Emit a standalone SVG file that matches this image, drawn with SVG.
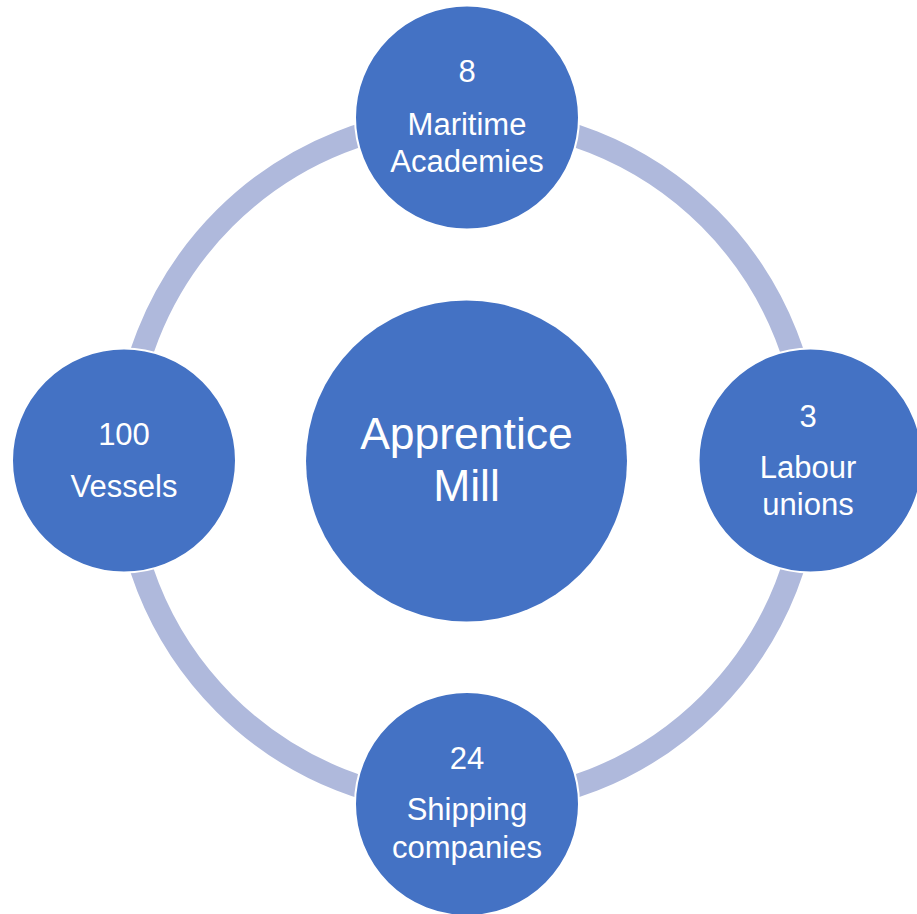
<svg xmlns="http://www.w3.org/2000/svg" width="917" height="914" viewBox="0 0 917 914">
<style>
.node{fill:#4472C4;}
.outer{stroke:#FFFFFF;stroke-width:2;}
.ring{fill:none;stroke:#AFB9DC;stroke-width:23;}
text{font-family:"Liberation Sans",Arial,sans-serif;fill:#FFFFFF;text-anchor:middle;}
.s{font-size:31px;}
.c{font-size:44.5px;}
</style>
<rect width="917" height="914" fill="#FFFFFF"/>
<g id="connectors">
<circle class="ring" cx="467" cy="461" r="343"/>
</g>
<g id="center">
<circle class="node" cx="466.5" cy="461" r="160.5"/>
<text class="c" x="466.5" y="449">Apprentice</text>
<text class="c" x="466.5" y="501">Mill</text>
</g>
<g id="top">
<circle class="node outer" cx="467" cy="117.5" r="112"/>
<text class="s" x="467" y="82">8</text>
<text class="s" x="467" y="135">Maritime</text>
<text class="s" x="467" y="172">Academies</text>
</g>
<g id="right">
<circle class="node outer" cx="810.5" cy="460.5" r="112"/>
<text class="s" x="808" y="427">3</text>
<text class="s" x="808" y="478">Labour</text>
<text class="s" x="808" y="515">unions</text>
</g>
<g id="bottom">
<circle class="node outer" cx="467" cy="804" r="112"/>
<text class="s" x="467" y="769">24</text>
<text class="s" x="467" y="820">Shipping</text>
<text class="s" x="467" y="858">companies</text>
</g>
<g id="left">
<circle class="node outer" cx="124" cy="460.5" r="112"/>
<text class="s" x="124" y="445">100</text>
<text class="s" x="124" y="497">Vessels</text>
</g>
</svg>
